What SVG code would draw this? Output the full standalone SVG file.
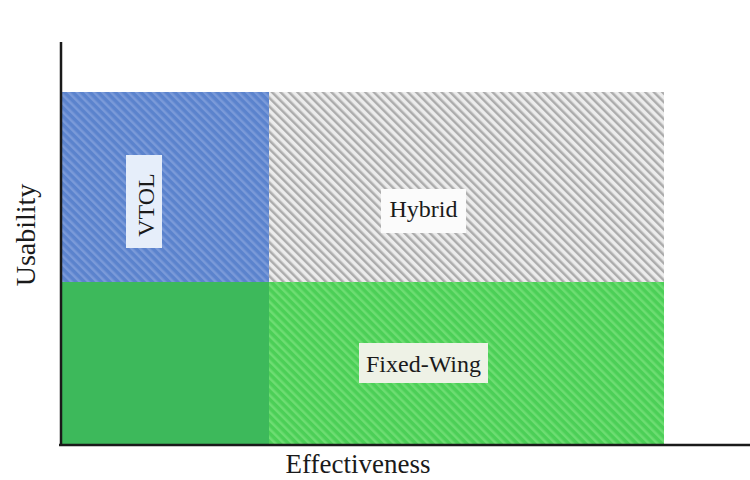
<svg xmlns="http://www.w3.org/2000/svg" width="750" height="480" viewBox="0 0 750 480">
<style>
.lbl{font-family:"Liberation Serif","Times New Roman",serif;fill:#1a1a1a;}
.ax{stroke:#1a1a1a;stroke-width:2.5;fill:none;}
</style>
<defs>
<pattern id="hBlue" width="6" height="6" patternUnits="userSpaceOnUse" patternTransform="rotate(-45)">
<rect width="6" height="6" fill="#5b83cd"/><rect width="2.5" height="6" fill="#7a9ad9"/>
</pattern>
<pattern id="hGray" width="6" height="6" patternUnits="userSpaceOnUse" patternTransform="rotate(-45)">
<rect width="6" height="6" fill="#ececec"/><rect width="2.5" height="6" fill="#acacac"/>
</pattern>
<pattern id="hGreen" width="6" height="6" patternUnits="userSpaceOnUse" patternTransform="rotate(-45)">
<rect width="6" height="6" fill="#4ccf57"/><rect width="2.5" height="6" fill="#6ddd72"/>
</pattern>
</defs>
<g id="vtol">
<rect x="61" y="92" width="208" height="190" fill="url(#hBlue)"/>
<rect x="126" y="155" width="36" height="93" fill="#e6eefa"/>
<text class="lbl" font-size="24" text-anchor="middle" transform="translate(154,205) rotate(-90)">VTOL</text>
</g>
<g id="hybrid">
<rect x="269" y="92" width="395" height="190" fill="url(#hGray)"/>
<rect x="381" y="189" width="85" height="44" fill="#fbfbfb"/>
<text class="lbl" font-size="24" x="423.500" y="217" text-anchor="middle">Hybrid</text>
</g>
<g id="lowleft">
<rect x="61" y="282" width="208" height="163" fill="#3db95b"/>
</g>
<g id="fixedwing">
<rect x="269" y="282" width="395" height="163" fill="url(#hGreen)"/>
<rect x="359" y="343" width="129" height="40" fill="#eef2e6"/>
<text class="lbl" font-size="24" x="423.500" y="372" text-anchor="middle">Fixed-Wing</text>
</g>
<g id="connectors">
<line class="ax" x1="61" y1="42" x2="61" y2="446"/>
<line class="ax" x1="59" y1="445" x2="750" y2="445"/>
</g>
<text class="lbl" font-size="27" x="358" y="473" text-anchor="middle">Effectiveness</text>
<text class="lbl" font-size="28" text-anchor="middle" transform="translate(35,235) rotate(-90)">Usability</text>
</svg>
